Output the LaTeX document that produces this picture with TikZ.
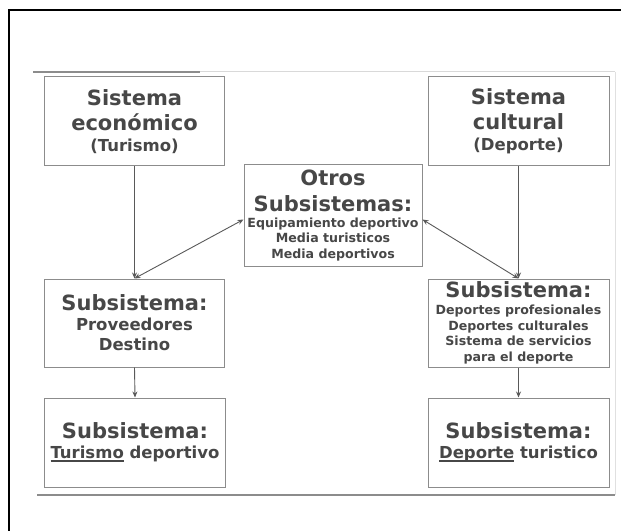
\documentclass[tikz,border=0pt]{standalone}
\usepackage{fontspec}
\setmainfont{DejaVu Sans}
\usetikzlibrary{arrows.meta,calc}

% font sizes used inside the boxes
\newcommand\bigf{\fontsize{21bp}{25bp}\selectfont}
\newcommand\medf{\fontsize{16.5bp}{20bp}\selectfont}
\newcommand\smf{\fontsize{12.6bp}{15bp}\selectfont}
% underline sitting a fixed distance below the baseline
\newcommand\undertext[1]{\setbox0\hbox{#1}\rlap{\rule[-3bp]{\wd0}{1.3bp}}\box0\relax}

\definecolor{inkgray}{gray}{0.28}
\definecolor{framegray}{gray}{0.55}
\definecolor{linegray}{gray}{0.35}

\begin{document}
\begin{tikzpicture}[x=1bp,y=-1bp,
  sysbox/.style={draw=framegray, line width=1bp, inner sep=0pt,
    minimum width=180bp, minimum height=89bp, align=center,
    text=inkgray, font=\bigf\bfseries},
  link/.style={draw=linegray, line width=0.9bp,
    -{Stealth[length=6bp,width=5bp]}},
  twoway/.style={draw=linegray, line width=0.9bp,
    {Stealth[length=6bp,width=5bp]}-{Stealth[length=6bp,width=5bp]}}]
\useasboundingbox (0,0) rectangle (621,531);
\fill[white] (0,0) rectangle (621,531);

% page frame
\draw[black, line width=1.6bp] (9,531) -- (9,10) -- (621,10);

% edges of the printed sheet
\draw[black!45, line width=1.2bp] (33,72) -- (200,72);
\draw[black!15, line width=1bp] (200,72) -- (615,72);
\draw[black!12, line width=1bp] (615,72) -- (615,495);
\draw[black!45, line width=1.6bp] (37,495) -- (615,495);

% boxes
\node[sysbox] (eco) at (134.5,121.5) {Sistema\\ económico\\[-4bp] {\medf (Turismo)}};
\node[sysbox, minimum width=181bp] (cul) at (518.5,121.5) {Sistema\\ cultural\\[-4bp] {\medf (Deporte)}};
\node[sysbox, minimum width=178bp, minimum height=101bp] (otr) at (333,215.5)
  {Otros\\[1bp] Subsistemas:\\[-9.5bp] {\smf Equipamiento deportivo}\\[-9.5bp]
   {\smf Media turisticos}\\[-9.5bp] {\smf Media deportivos}};
\node[sysbox, minimum height=88bp] (prov) at (134.5,323)
  {Subsistema:\\[-5bp] {\medf Proveedores}\\[-5bp] {\medf Destino}};
\node[sysbox, minimum width=181bp, minimum height=88bp] (dep) at (518.5,323)
  {Subsistema:\\[-8bp] {\smf Deportes profesionales}\\[-9.5bp] {\smf Deportes culturales}\\[-9.5bp]
   {\smf Sistema de servicios}\\[-9.5bp] {\smf para el deporte}};
\node[sysbox] (tur) at (135,442.5)
  {Subsistema:\\[-5bp] {\medf\undertext{Turismo} deportivo}};
\node[sysbox, minimum width=181bp] (dtu) at (518.5,442.5)
  {Subsistema:\\[-5bp] {\medf\undertext{Deporte} turistico}};

% connectors
\draw[link] (eco.south) -- (prov.north);
\draw[link] (cul.south) -- (dep.north);
\draw[link] (prov.south) -- (tur.north);
\draw[link] (dep.south) -- (dtu.north);
\draw[twoway] ($(otr.west)+(0,4)$) -- (prov.north);
\draw[twoway] ($(otr.east)+(0,4)$) -- (dep.north);
\end{tikzpicture}
\end{document}
